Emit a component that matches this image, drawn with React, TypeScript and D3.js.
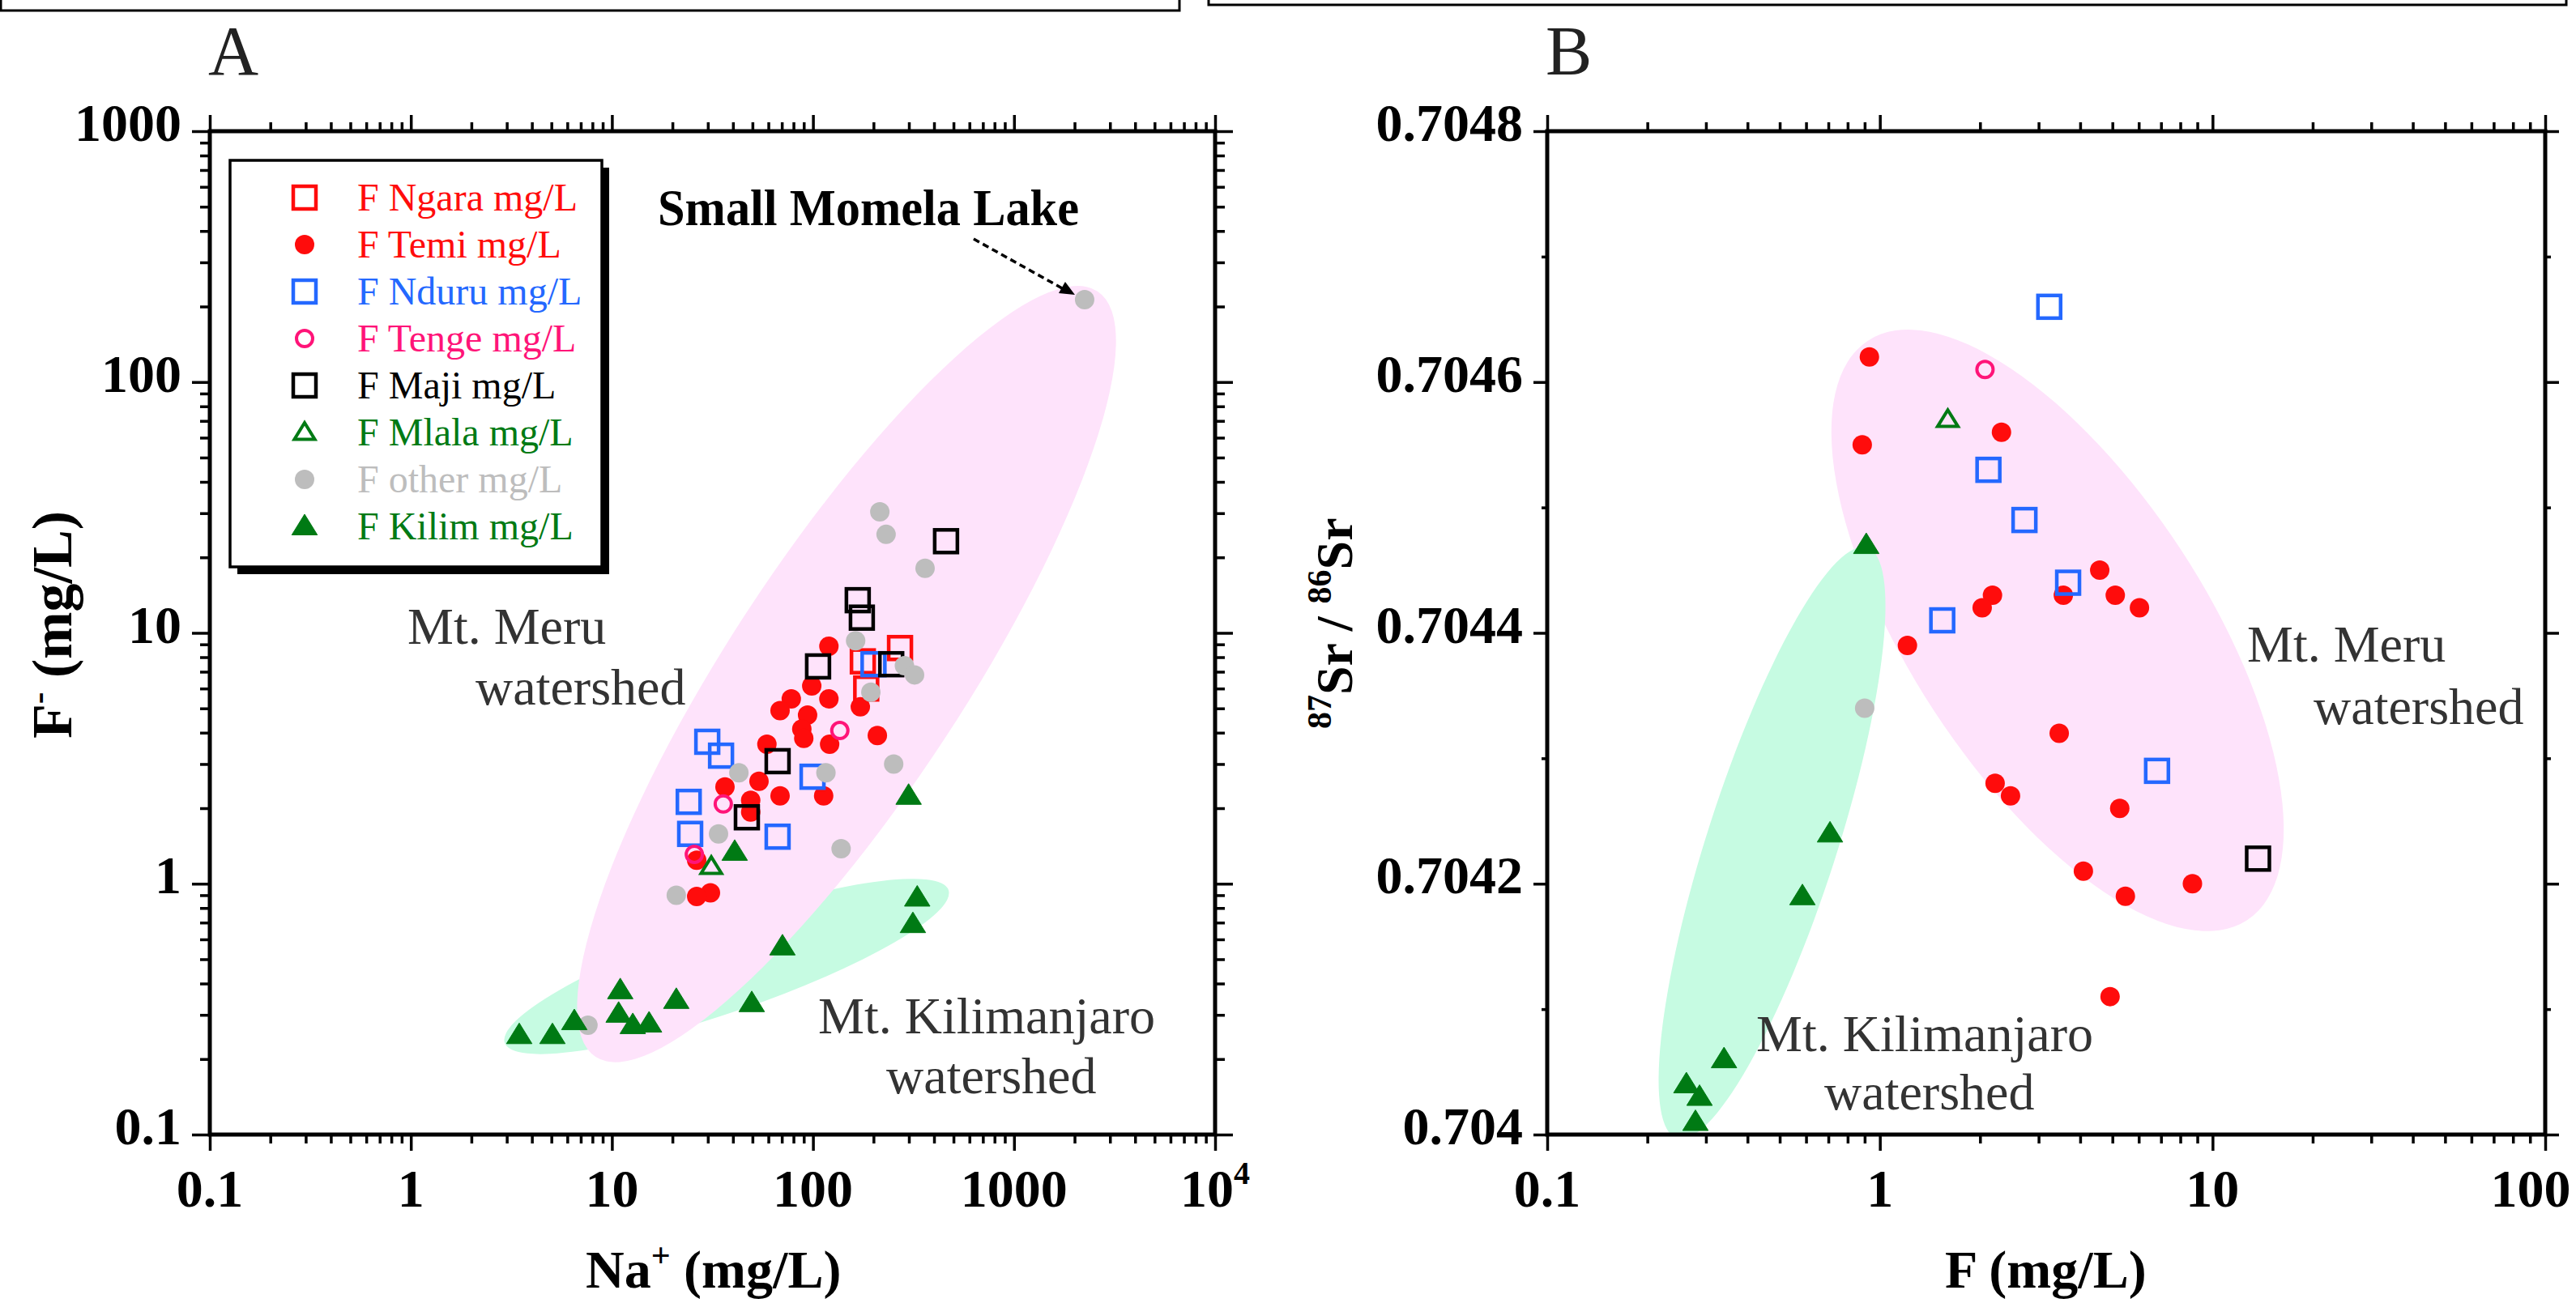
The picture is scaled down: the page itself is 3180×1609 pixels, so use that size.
import React, { useEffect, useRef } from 'react';
import * as d3 from 'd3';

const W = 3180;
const H = 1609;

// legend / series
const seriesNames = ['F Ngara mg/L', 'F Temi mg/L', 'F Nduru mg/L', 'F Tenge mg/L', 'F Maji mg/L', 'F Mlala mg/L', 'F other mg/L', 'F Kilim mg/L'];
const seriesColors = ['#ff0c0c', '#ff0c0c', '#2468ff', '#ff1478', '#000000', '#007a14', '#bdbdbd', '#007a14'];
const seriesShapes = ['square', 'circle', 'square', 'ring', 'square', 'triangleOpen', 'circle', 'triangle'];

// panel A : [Na+ mg/L, F- mg/L]
const ngaraA = [[177, 7.7], [271, 8.7], [184, 6.0]];
const temiA = [[120, 8.85], [98.6, 6.15], [78, 5.46], [120, 5.46], [68.6, 4.9], [94, 4.7], [172, 5.07], [88, 4.14], [90, 3.8], [209, 3.9], [59, 3.6], [121, 3.6], [53.9, 2.56], [36.5, 2.43], [49, 2.15], [68.6, 2.24], [113, 2.24], [49, 1.93], [26.4, 1.24], [30.9, 0.92], [26.4, 0.89]];
const nduruA = [[29.8, 3.68], [34.9, 3.24], [24.5, 1.58], [66.7, 1.54], [99.5, 2.67], [24.1, 2.12], [200, 7.5]];
const tengeA = [[136, 4.08], [35.8, 2.08], [25.7, 1.31]];
const majiA = [[167, 13.5], [175, 11.5], [106, 7.35], [459, 23.2], [245, 7.5], [66.7, 3.08], [46.9, 1.84]];
const mlalaA = [[31.2, 1.17]];
const otherA = [[2244, 213], [215, 30.4], [231, 24.7], [361, 18.1], [163, 9.3], [285, 7.4], [320, 6.8], [194, 5.8], [42.8, 2.77], [116, 2.77], [252, 3.0], [33.9, 1.58], [138, 1.38], [20.9, 0.9], [7.6, 0.273]];
const kilimA = [[40.8, 1.34], [299, 2.24], [330, 0.88], [314, 0.69], [70.5, 0.562], [11.0, 0.376], [20.9, 0.344], [49.6, 0.334], [10.8, 0.303], [15.3, 0.277], [12.7, 0.273], [6.5, 0.283], [3.46, 0.249], [5.06, 0.249]];

// panel B : [F mg/L, 87Sr/86Sr]
const ngaraB: number[][] = [];
const temiB = [[0.93, 0.70462], [0.885, 0.70455], [1.21, 0.70439], [2.32, 0.70456], [3.56, 0.70443], [4.58, 0.70445], [5.1, 0.70443], [6.03, 0.70442], [2.18, 0.70443], [2.03, 0.70442], [3.46, 0.70432], [2.22, 0.70428], [2.47, 0.70427], [5.26, 0.70426], [4.09, 0.70421], [8.7, 0.7042], [5.47, 0.70419], [4.92, 0.70411]];
const nduruB = [[3.23, 0.70466], [2.12, 0.70453], [2.72, 0.70449], [3.68, 0.70444], [1.54, 0.70441], [6.81, 0.70429]];
const tengeB = [[2.07, 0.70461]];
const majiB = [[13.7, 0.70422]];
const mlalaB = [[1.6, 0.70457]];
const otherB = [[0.9, 0.70434]];
const kilimB = [[0.91, 0.70447], [0.708, 0.70424], [0.585, 0.70419], [0.34, 0.70406], [0.262, 0.70404], [0.287, 0.70403], [0.279, 0.70401]];

// ticks
const xTicksA = [0.1, 1, 10, 100, 1000, 10000];
const xLabelsA = ['0.1', '1', '10', '100', '1000', '10^4'];
const yTicksA = [0.1, 1, 10, 100, 1000];
const yLabelsA = ['0.1', '1', '10', '100', '1000'];
const xTicksB = [0.1, 1, 10, 100];
const xLabelsB = ['0.1', '1', '10', '100'];
const yTicksB = [0.704, 0.7042, 0.7044, 0.7046, 0.7048];
const yLabelsB = ['0.704', '0.7042', '0.7044', '0.7046', '0.7048'];
const yMinorB = [0.7041, 0.7043, 0.7045, 0.7047];

// watershed envelopes (tips in data units)
const meruA = [[8.3, 0.204], [2600, 230]];
const kiliA = [[2.93, 0.232], [472, 0.944]];
const meruB = [[0.921, 0.704633], [12.7, 0.704171]];
const kiliB = [[0.916, 0.704468], [0.2453, 0.703997]];

const SERIF = '"Liberation Serif", "Times New Roman", serif';
const PINK = '#fee3fb';
const MINT = '#c6fbe2';

const logMinor = (lo, hi) => {
  const out = [];
  for (let e = Math.round(Math.log10(lo)); e < Math.round(Math.log10(hi)); e++)
    for (let k = 2; k < 10; k++) out.push(+(k * Math.pow(10, e)).toPrecision(3));
  return out;
};

const addMarker = (g, shape, color, px, py) => {
  if (shape === 'square') {
    g.append('rect').attr('x', px - 14).attr('y', py - 14).attr('width', 28).attr('height', 28)
      .attr('fill', 'none').attr('stroke', color).attr('stroke-width', 4.5);
  } else if (shape === 'circle') {
    g.append('circle').attr('cx', px).attr('cy', py).attr('r', 12).attr('fill', color);
  } else if (shape === 'ring') {
    g.append('circle').attr('cx', px).attr('cy', py).attr('r', 10)
      .attr('fill', 'none').attr('stroke', color).attr('stroke-width', 4);
  } else {
    const open = shape === 'triangleOpen';
    const s = open ? 12 : 15;
    g.append('path').attr('d', `M${px},${py - s}L${px + s * 1.05},${py + s * 0.7}L${px - s * 1.05},${py + s * 0.7}Z`)
      .attr('fill', open ? 'none' : color).attr('stroke', color).attr('stroke-width', open ? 4 : 1);
  }
};

const envelope = (g, x, y, tips, half, fill) => {
  const [p, q] = tips.map(([a, b]) => [x(a), y(b)]);
  const cx = (p[0] + q[0]) / 2;
  const cy = (p[1] + q[1]) / 2;
  const rx = Math.hypot(q[0] - p[0], q[1] - p[1]) / 2;
  const ang = (Math.atan2(q[1] - p[1], q[0] - p[0]) * 180) / Math.PI;
  g.append('ellipse').attr('cx', cx).attr('cy', cy).attr('rx', rx).attr('ry', half)
    .attr('transform', `rotate(${ang},${cx},${cy})`).attr('fill', fill);
};

const drawAxes = (g, x, y, xMajor, xMinor, yMajor, yMinor, yMajLen, yMinLen) => {
  const [x0, x1] = x.range();
  const [y1, y0] = y.range();
  const sides = [
    [d3.axisBottom(x), `translate(0,${y1})`, xMajor, xMinor, 20, 11],
    [d3.axisTop(x), `translate(0,${y0})`, xMajor, xMinor, 20, 11],
    [d3.axisLeft(y), `translate(${x0},0)`, yMajor, yMinor, yMajLen, yMinLen],
    [d3.axisRight(y), `translate(${x1},0)`, yMajor, yMinor, yMajLen, yMinLen],
  ];
  sides.forEach(([ax, tr, maj, min, lM, lm]) => {
    [[min, lm], [maj, lM]].forEach(([vals, len]) => {
      const a = g.append('g').attr('transform', tr)
        .call(ax.tickValues(vals).tickSize(len).tickSizeOuter(0).tickFormat(() => ''));
      a.select('.domain').remove();
      a.selectAll('line').attr('stroke-width', 3.5);
    });
  });
  g.append('rect').attr('x', x0).attr('y', y0).attr('width', x1 - x0).attr('height', y1 - y0)
    .attr('fill', 'none').attr('stroke', '#000').attr('stroke-width', 5);
};

const addText = (g, str, px, py, size, opts: any = {}) => {
  const t = g.append('text').attr('x', px).attr('y', py).attr('font-family', SERIF)
    .attr('font-size', size).attr('font-weight', opts.bold ? 'bold' : 'normal')
    .attr('fill', opts.fill || '#000').attr('text-anchor', opts.anchor || 'start');
  if (opts.len) t.attr('textLength', opts.len).attr('lengthAdjust', 'spacingAndGlyphs');
  t.text(str);
  return t;
};

// label with optional "^" superscript part
const tickLabel = (g, str, px, py, anchor) => {
  const [base, sup] = str.split('^');
  const t = g.append('text').attr('x', px).attr('y', py).attr('font-family', SERIF)
    .attr('font-size', 66).attr('font-weight', 'bold').attr('text-anchor', anchor);
  t.append('tspan').text(base);
  if (sup) t.append('tspan').attr('dy', -28).attr('font-size', 40).text(sup);
};

const App = () => {
  const ref = useRef(null);

  useEffect(() => {
    const svg = d3.select(ref.current);
    svg.selectAll('*').remove();

    // remnants of the boxes above
    svg.append('path').attr('d', 'M1,0V13H1456V0').attr('fill', 'none').attr('stroke', '#000').attr('stroke-width', 3);
    svg.append('path').attr('d', 'M1492,0V6H3168V0').attr('fill', 'none').attr('stroke', '#000').attr('stroke-width', 3);

    const panels = [
      {
        x: d3.scaleLog().domain([0.1, 10000]).range([259, 1500]),
        y: d3.scaleLog().domain([0.1, 1000]).range([1401, 162]),
        data: [ngaraA, temiA, nduruA, tengeA, majiA, mlalaA, otherA, kilimA],
        env: [[kiliA, 56, MINT], [meruA, 145, PINK]],
        xt: xTicksA, xl: xLabelsA, yt: yTicksA, yl: yLabelsA,
        yMinor: logMinor(0.1, 1000), yMajLen: 22, yMinLen: 12,
        id: 'A',
      },
      {
        x: d3.scaleLog().domain([0.1, 100]).range([1910, 3142]),
        y: d3.scaleLinear().domain([0.704, 0.7048]).range([1401, 162]),
        data: [ngaraB, temiB, nduruB, tengeB, majiB, mlalaB, otherB, kilimB],
        env: [[meruB, 182, PINK], [kiliB, 80, MINT]],
        xt: xTicksB, xl: xLabelsB, yt: yTicksB, yl: yLabelsB,
        yMinor: yMinorB, yMajLen: 17, yMinLen: 7,
        id: 'B',
      },
    ];

    panels.forEach((p) => {
      const g = svg.append('g');
      const [x0, x1] = p.x.range();
      const [y1, y0] = p.y.range();
      const clipId = `clip${p.id}`;
      g.append('clipPath').attr('id', clipId).append('rect')
        .attr('x', x0).attr('y', y0).attr('width', x1 - x0).attr('height', y1 - y0);
      const plot = g.append('g').attr('clip-path', `url(#${clipId})`);
      p.env.forEach(([tips, half, fill]) => envelope(plot, p.x, p.y, tips, half, fill));

      const marks = g.append('g');
      p.data.forEach((series, i) => {
        series.forEach(([a, b]) => addMarker(marks, seriesShapes[i], seriesColors[i], p.x(a), p.y(b)));
      });

      drawAxes(g, p.x, p.y, p.xt, logMinor(p.x.domain()[0], p.x.domain()[1]), p.yt, p.yMinor, p.yMajLen, p.yMinLen);

      // last x label of panel B would run off the page: keep it inside
      p.xt.forEach((v, i) => {
        const px = Math.min(p.x(v), W - 56);
        tickLabel(g, p.xl[i], px, 1490, 'middle');
      });
      p.yt.forEach((v, i) => tickLabel(g, p.yl[i], x0 - (p.id === 'A' ? 35 : 30), p.y(v) + 12, 'end'));

      addText(g, p.id, x0 - 2, 92, 86, { fill: '#222' });
    });

    const [pa] = panels;

    // axis titles
    const yTitleA = svg.append('text').attr('transform', 'translate(88,912) rotate(-90)')
      .attr('font-family', SERIF).attr('font-size', 70).attr('font-weight', 'bold');
    yTitleA.append('tspan').text('F');
    yTitleA.append('tspan').attr('dy', -26).attr('font-size', 44).text('-');
    yTitleA.append('tspan').attr('dy', 26).text(' (mg/L)');

    const xTitleA = svg.append('text').attr('x', 723).attr('y', 1590)
      .attr('font-family', SERIF).attr('font-size', 66).attr('font-weight', 'bold');
    xTitleA.append('tspan').text('Na');
    xTitleA.append('tspan').attr('dy', -26).attr('font-size', 42).text('+');
    xTitleA.append('tspan').attr('dy', 26).text(' (mg/L)');

    addText(svg, 'F (mg/L)', 2401, 1590, 66, { bold: true });

    const yTitleB = svg.append('text').attr('transform', 'translate(1669,900) rotate(-90)')
      .attr('font-family', SERIF).attr('font-size', 64).attr('font-weight', 'bold');
    yTitleB.append('tspan').attr('dy', -26).attr('font-size', 42).text('87');
    yTitleB.append('tspan').attr('dy', 26).text('Sr / ');
    yTitleB.append('tspan').attr('dy', -26).attr('font-size', 42).text('86');
    yTitleB.append('tspan').attr('dy', 26).text('Sr');

    // annotations
    addText(svg, 'Mt. Meru', 503, 795, 64, { fill: '#333' });
    addText(svg, 'watershed', 587, 870, 64, { fill: '#333' });
    addText(svg, 'Mt. Kilimanjaro', 1010, 1276, 64, { fill: '#333' });
    addText(svg, 'watershed', 1094, 1350, 64, { fill: '#333' });
    addText(svg, 'Mt. Meru', 2774, 817, 64, { fill: '#333' });
    addText(svg, 'watershed', 2856, 894, 64, { fill: '#333' });
    addText(svg, 'Mt. Kilimanjaro', 2168, 1298, 64, { fill: '#333' });
    addText(svg, 'watershed', 2252, 1370, 64, { fill: '#333' });

    // Small Momela Lake arrow
    const lake = otherA[0];
    const lx = pa.x(lake[0]);
    const ly = pa.y(lake[1]);
    addText(svg, 'Small Momela Lake', 812, 278, 64, { bold: true, len: 520 });
    svg.append('line').attr('x1', lx - 137).attr('y1', ly - 75).attr('x2', lx - 24).attr('y2', ly - 12)
      .attr('stroke', '#000').attr('stroke-width', 3.5).attr('stroke-dasharray', '8 5');
    svg.append('path').attr('d', `M${lx - 12},${ly - 6}L${lx - 32},${ly - 8}L${lx - 24},${ly - 22}Z`).attr('fill', '#000');

    // legend
    const lg = svg.append('g');
    lg.append('rect').attr('x', 293).attr('y', 207).attr('width', 459).attr('height', 502).attr('fill', '#000');
    lg.append('rect').attr('x', 284).attr('y', 198).attr('width', 459).attr('height', 502)
      .attr('fill', '#fff').attr('stroke', '#000').attr('stroke-width', 3.5);
    seriesNames.forEach((name, i) => {
      const cy = 244 + i * 58;
      addMarker(lg, seriesShapes[i], seriesColors[i], 376, cy);
      addText(lg, name, 441, cy + 16, 48, { fill: seriesColors[i] });
    });
  }, []);

  return (
    <svg ref={ref} width={W} height={H} viewBox={`0 0 ${W} ${H}`}
      style={{ position: 'absolute', left: 0, top: 0, background: '#fff' }} />
  );
};

export default App;
